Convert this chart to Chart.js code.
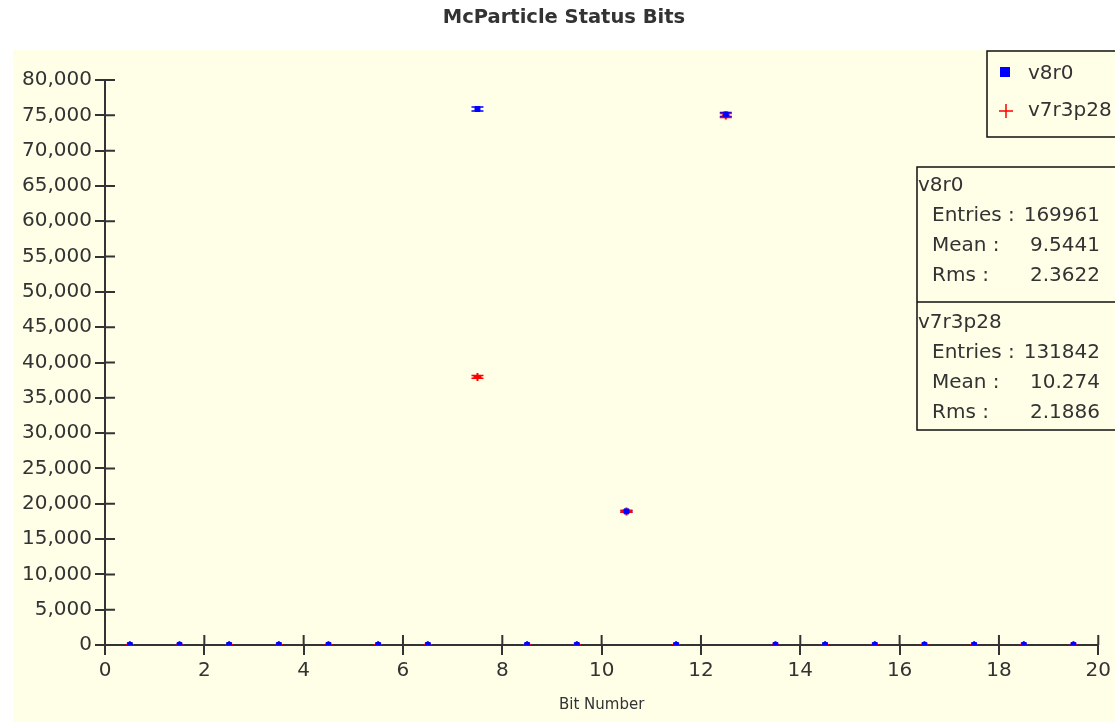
<!DOCTYPE html>
<html><head><meta charset="utf-8">
<script src="https://cdn.jsdelivr.net/npm/chart.js@4.4.1/dist/chart.umd.min.js"></script>
<style>html,body{margin:0;padding:0;background:#fff;}canvas{display:block;}</style>
</head><body>
<canvas id="c" width="1115" height="722"></canvas>
<script>
// ---- data ----
const chartTitle = 'McParticle Status Bits';
const xAxisTitle = 'Bit Number';
const binLow = [0,1,2,3,4,5,6,7,8,9,10,11,12,13,14,15,16,17,18,19];
const seriesNames = ['v8r0', 'v7r3p28'];
const v8r0    = [0,0,0,0,0,0,0,75900,0,0,18920,0,75120,0,0,0,0,0,0,0];
const v7r3p28 = [0,0,0,0,0,0,0,37950,0,0,18920,0,74980,0,0,0,0,0,0,0];
const xTicks = [0,2,4,6,8,10,12,14,16,18,20];
const yTicks = [0,5000,10000,15000,20000,25000,30000,35000,40000,45000,50000,55000,60000,65000,70000,75000,80000];
const statLabels = ['Entries :', 'Mean :', 'Rms :'];
const statsV8r0 = ['169961', '9.5441', '2.3622'];
const statsV7r3p28 = ['131842', '10.274', '2.1886'];

// ---- styles ----
const FONT = '"DejaVu Sans", sans-serif';
const INK = '#333333';
const PANEL = '#FFFFE8';
const COLORS = ['#0000FF', '#FF0000'];

const toPoints = vals => binLow.map((b, i) => ({x: b + 0.5, y: vals[i]}));

const bgPlugin = {
  id: 'bg',
  beforeDraw(chart) {
    const c = chart.ctx;
    c.save();
    c.fillStyle = '#fff';
    c.fillRect(0, 0, chart.width, chart.height);
    c.fillStyle = PANEL;
    c.fillRect(13, 50, chart.width - 13, chart.height - 50);
    c.fillStyle = INK;
    c.font = 'bold 19.5px ' + FONT;
    c.textAlign = 'center'; c.textBaseline = 'middle';
    c.fillText(chartTitle, 564, 18);
    c.restore();
  }
};

const crossTicks = {
  id: 'crossTicks',
  afterDraw(chart) {
    const c = chart.ctx, a = chart.chartArea;
    const xs = chart.scales.x, ys = chart.scales.y;
    c.save();
    c.strokeStyle = INK; c.lineWidth = 2;
    c.beginPath();
    ys.ticks.forEach(t => { const p = ys.getPixelForValue(t.value); c.moveTo(a.left, p); c.lineTo(a.left + 10, p); });
    xs.ticks.forEach(t => { const p = xs.getPixelForValue(t.value); c.moveTo(p, a.bottom); c.lineTo(p, a.bottom - 10); });
    c.stroke();
    c.restore();
  }
};

const errorBars = {
  id: 'errorBars',
  beforeDatasetsDraw(chart) {
    const c = chart.ctx, xs = chart.scales.x, ys = chart.scales.y;
    c.save();
    chart.data.datasets.forEach(ds => {
      c.strokeStyle = ds.borderColor; c.lineWidth = 1.5;
      ds.data.forEach(pt => {
        if (pt.y <= 0) return;
        const e = Math.sqrt(pt.y);
        const px = xs.getPixelForValue(pt.x);
        const y1 = ys.getPixelForValue(pt.y + e), y2 = ys.getPixelForValue(pt.y - e);
        c.beginPath();
        c.moveTo(px, y1); c.lineTo(px, y2);
        c.moveTo(px - 6, y1); c.lineTo(px + 6, y1);
        c.moveTo(px - 6, y2); c.lineTo(px + 6, y2);
        c.stroke();
      });
    });
    c.restore();
  }
};

const legendStats = {
  id: 'legendStats',
  afterDraw(chart) {
    const c = chart.ctx;
    c.save();
    c.fillStyle = PANEL;
    c.fillRect(987, 51, 140, 86);
    c.strokeStyle = '#111'; c.lineWidth = 1.5;
    c.strokeRect(987, 51, 140, 86);
    c.font = '20px ' + FONT;
    c.textBaseline = 'middle'; c.textAlign = 'left';
    c.fillStyle = COLORS[0];
    c.fillRect(1000, 67, 10, 10);
    c.fillStyle = INK;
    c.fillText(seriesNames[0], 1028, 74);
    c.strokeStyle = COLORS[1]; c.lineWidth = 1.5;
    c.beginPath();
    c.moveTo(999, 111); c.lineTo(1013, 111);
    c.moveTo(1006, 104); c.lineTo(1006, 118);
    c.stroke();
    c.fillStyle = INK;
    c.fillText(seriesNames[1], 1028, 111);
    c.fillStyle = PANEL;
    c.fillRect(917, 167, 210, 263);
    c.strokeStyle = '#111'; c.lineWidth = 1.5;
    c.strokeRect(917, 167, 210, 263);
    c.beginPath(); c.moveTo(917, 302); c.lineTo(1115, 302); c.stroke();
    const blocks = [[seriesNames[0], statsV8r0, 186], [seriesNames[1], statsV7r3p28, 323]];
    blocks.forEach(([name, vals, y0]) => {
      c.fillStyle = INK; c.textAlign = 'left';
      c.fillText(name, 918, y0);
      statLabels.forEach((lab, i) => {
        const y = y0 + 30 * (i + 1);
        c.textAlign = 'left'; c.fillText(lab, 932, y);
        c.textAlign = 'right'; c.fillText(vals[i], 1100, y);
      });
    });
    c.restore();
  }
};

new Chart(document.getElementById('c'), {
  type: 'scatter',
  data: {
    datasets: [
      { label: seriesNames[0], data: toPoints(v8r0), pointStyle: 'rect', pointRadius: 3.5, pointHoverRadius: 3.5,
        backgroundColor: COLORS[0], borderColor: COLORS[0], borderWidth: 1 },
      { label: seriesNames[1], data: toPoints(v7r3p28), pointStyle: 'cross', pointRadius: 4, pointHoverRadius: 4,
        backgroundColor: COLORS[1], borderColor: COLORS[1], borderWidth: 2 }
    ]
  },
  options: {
    responsive: false, animation: false, devicePixelRatio: 1,
    layout: { padding: { left: 0, right: 15, top: 80, bottom: 0 } },
    plugins: {
      legend: { display: false },
      tooltip: { enabled: false },
      title: { display: false }
    },
    scales: {
      x: {
        type: 'linear', min: 0, max: 20,
        afterBuildTicks: s => { s.ticks = xTicks.map(v => ({ value: v })); },
        afterFit: s => { s.height = 77; },
        grid: { display: true, drawOnChartArea: false, drawTicks: true, tickLength: 10, color: INK, lineWidth: 2 },
        border: { display: true, color: INK, width: 2 },
        ticks: { color: INK, font: { family: FONT, size: 20 }, padding: 4, maxRotation: 0, autoSkip: false },
        title: { display: true, text: xAxisTitle, color: INK, font: { family: FONT, size: 15 }, padding: { top: 0, bottom: 8 } }
      },
      y: {
        type: 'linear', min: 0, max: 80000,
        afterBuildTicks: s => { s.ticks = yTicks.map(v => ({ value: v })); },
        afterFit: s => { s.width = 105; },
        grid: { display: true, drawOnChartArea: false, drawTicks: true, tickLength: 10, color: INK, lineWidth: 2 },
        border: { display: true, color: INK, width: 2 },
        ticks: { color: INK, font: { family: FONT, size: 20 }, padding: 3, autoSkip: false,
          callback: v => v.toLocaleString('en-US') }
      }
    }
  },
  plugins: [bgPlugin, crossTicks, errorBars, legendStats]
});
</script>
</body></html>
